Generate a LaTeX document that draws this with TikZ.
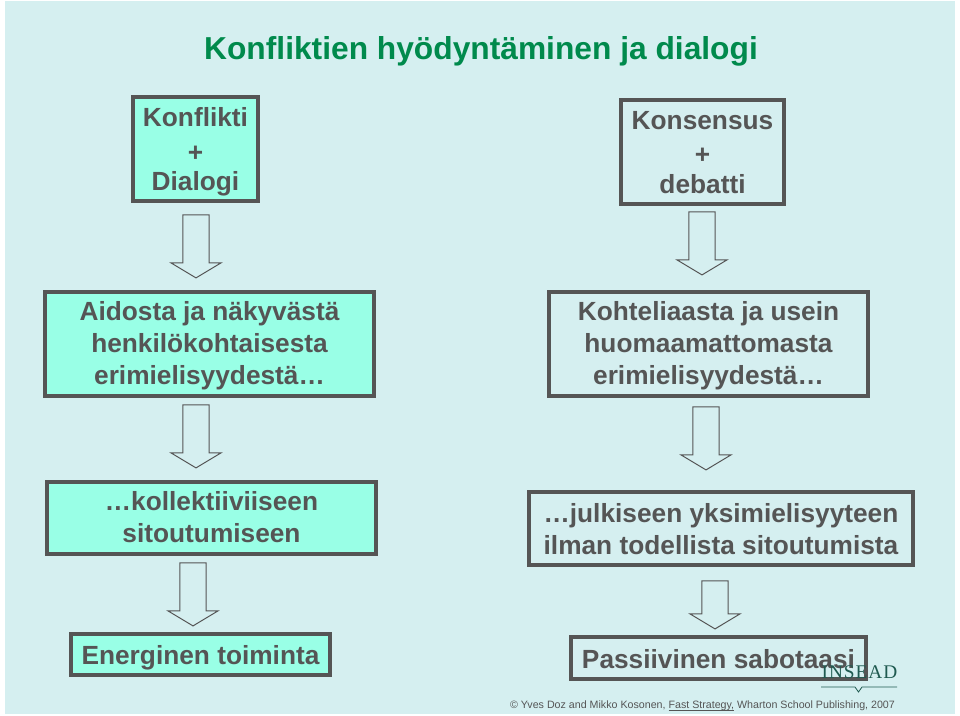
\documentclass[tikz,border=0pt]{standalone}
\usepackage{fontspec}
\setmainfont{Liberation Sans}
\newfontfamily\inseadfont[LetterSpace=5]{Liberation Serif}
\usetikzlibrary{shapes.arrows}
\definecolor{bgc}{HTML}{D5EFF0}
\definecolor{aquac}{HTML}{99FFE6}
\definecolor{inkc}{HTML}{555555}
\definecolor{titlec}{HTML}{008A4C}
\definecolor{logoc}{HTML}{1F5A50}
\tikzset{
  x=0.75pt,y=-0.75pt,
  boxbase/.style={draw=inkc,line width=3.2pt,inner sep=0pt},
  boxtext/.style={text=inkc,align=center,inner sep=0pt,font=\fontsize{19.7pt}{24pt}\selectfont\bfseries},
  filledbox/.style={boxbase,fill=aquac},
  plainbox/.style={boxbase},
  blockarrow/.style={draw=inkc,line width=0.75pt,fill=bgc,single arrow,shape border rotate=270,inner sep=9.4pt,
    minimum width=36.75pt,single arrow head extend=9pt,single arrow tip angle=118,anchor=center},
}
\newcommand{\bx}[8]{% name style x1 y1 x2 y2 text-shift(px) text
  \node[#2,minimum width={(#5-#3)*0.75-3.2},minimum height={(#6-#4)*0.75-3.2},
    anchor=center] (#1) at ({(#3+#5)/2},{(#4+#6)/2}) {};
  \node[boxtext,yshift={-(#7)*0.75pt}] (#1t) at (#1.center) {#8};}
\begin{document}
\begin{tikzpicture}
\useasboundingbox (0,0) rectangle (960,716);
\fill[white] (0,0) rectangle (960,716);
\fill[bgc] (5,1) rectangle (955,714);
\node[text=titlec,font=\fontsize{23.8pt}{28pt}\selectfont\bfseries,anchor=center] (title) at (481,51) {Konfliktien hyödyntäminen ja dialogi};
\bx{b1}{filledbox}{131}{95}{260}{203}{3}{Konflikti\\\raisebox{-2.2pt}{+}\\Dialogi}
\bx{b2}{plainbox}{619}{98}{786}{206}{1}{Konsensus\\\raisebox{-1.5pt}{+}\\debatti}
\bx{b3}{filledbox}{43}{290}{376}{398}{2}{Aidosta ja näkyvästä\\henkilökohtaisesta\\erimielisyydestä…}
\bx{b4}{plainbox}{547}{290}{870}{398}{2}{Kohteliaasta ja usein\\huomaamattomasta\\erimielisyydestä…}
\bx{b5}{filledbox}{45}{480}{378}{556}{-1}{…kollektiiviiseen\\sitoutumiseen}
\bx{b6}{plainbox}{527}{490}{915}{567}{1}{…julkiseen yksimielisyyteen\\ilman todellista sitoutumista}
\bx{b7}{filledbox}{69}{632}{332}{677}{3}{Energinen toiminta}
\bx{b8}{plainbox}{569}{635}{868}{681}{1}{Passiivinen sabotaasi}
\node[blockarrow,minimum height=47.25pt] (a1) at (196,242.5) {};
\node[blockarrow,minimum height=47.25pt] (a2) at (702,239.5) {};
\node[blockarrow,minimum height=47.25pt] (a3) at (196,432.5) {};
\node[blockarrow,minimum height=47.25pt] (a4) at (706,434.5) {};
\node[blockarrow,minimum height=47.25pt] (a5) at (193,590.5) {};
\node[blockarrow,minimum height=36pt] (a6) at (715,601) {};
\node[text=logoc,font=\inseadfont\fontsize{14.5pt}{18pt}\selectfont,anchor=center] (logo) at (859.5,672) {INSEAD};
\coordinate (la) at (821,687);
\coordinate (lb) at (897,687);
\draw[logoc,line width=0.6pt] (la) -- (855,687) -- (858.5,692) -- (862,687) -- (lb);
\node[text=inkc,font=\fontsize{8pt}{10pt}\selectfont,anchor=center] (foot) at (702.5,706) {© Yves Doz and Mikko Kosonen, \underline{\smash{Fast Strategy,}} Wharton School Publishing, 2007};
\end{tikzpicture}
\end{document}
